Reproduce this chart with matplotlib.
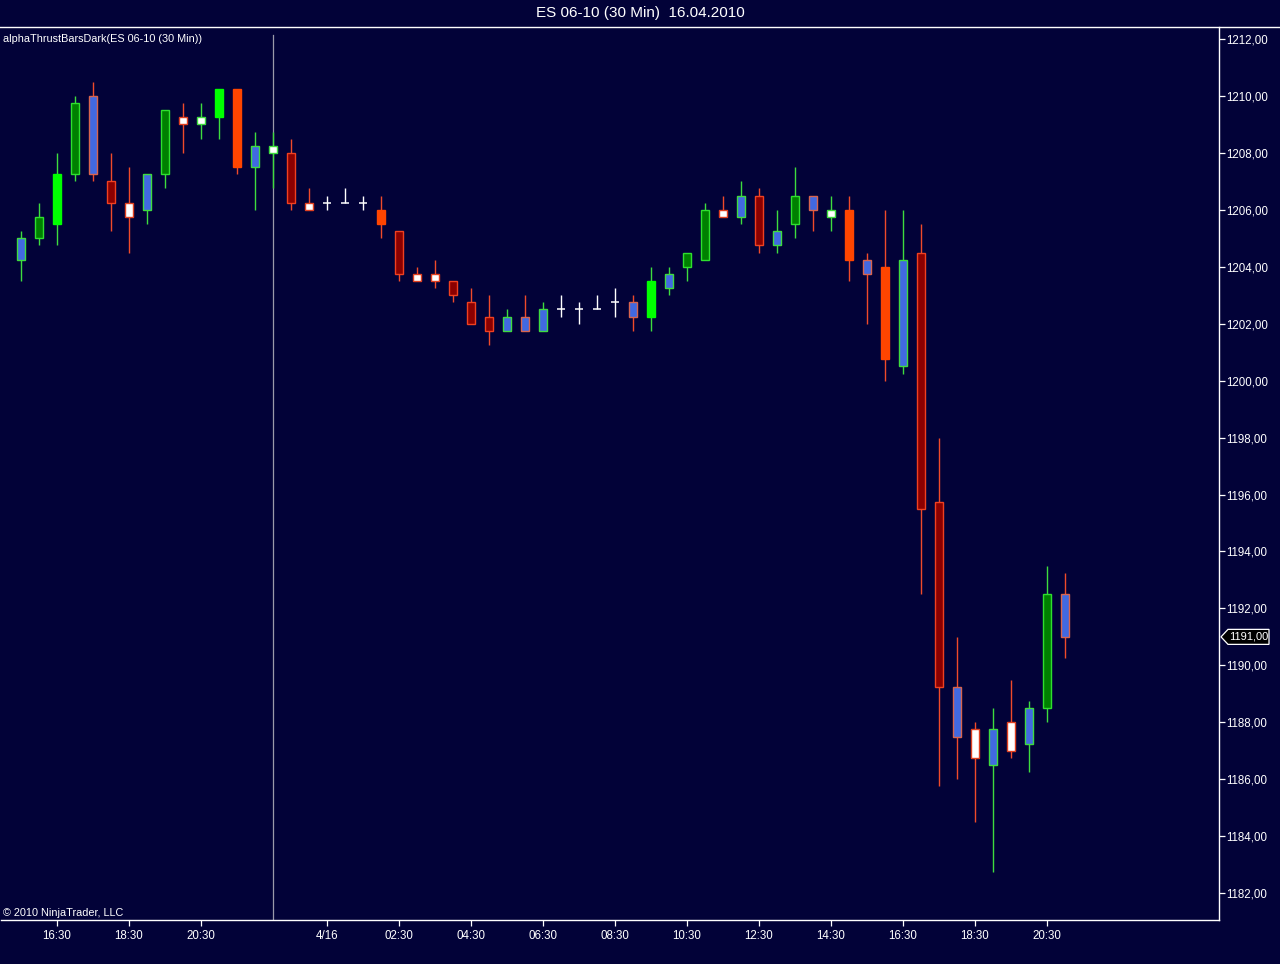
import matplotlib
matplotlib.use('Agg')
import matplotlib.pyplot as plt
import numpy as np
from matplotlib.patches import Polygon
from matplotlib.lines import Line2D
import matplotlib.transforms as mtransforms

plt.rcParams['font.family'] = ['Liberation Sans', 'DejaVu Sans']

# 30 min bars, ES 06-10, 15.04.2010 15:30 -> 16.04.2010 21:00
opens = [1204.25, 1205.0, 1205.5, 1207.25, 1210.0, 1207.0, 1206.25, 1206.0, 1207.25, 1209.25,
         1209.0, 1209.25, 1210.25, 1207.5, 1208.0, 1208.0, 1206.25, 1206.25, 1206.25, 1206.25,
         1206.0, 1205.25, 1203.75, 1203.75, 1203.5, 1202.75, 1202.25, 1201.75, 1202.25, 1201.75,
         1202.5, 1202.5, 1202.5, 1202.75, 1202.75, 1202.25, 1203.25, 1204.0, 1204.25, 1206.0,
         1205.75, 1206.5, 1204.75, 1205.5, 1206.5, 1205.75, 1206.0, 1204.25, 1204.0, 1200.5,
         1204.5, 1195.75, 1189.25, 1187.75, 1186.5, 1188.0, 1187.25, 1188.5, 1192.5]
highs = [1205.25, 1206.25, 1208.0, 1210.0, 1210.5, 1208.0, 1207.5, 1207.25, 1209.5, 1209.75,
         1209.75, 1210.25, 1210.25, 1208.75, 1208.75, 1208.5, 1206.75, 1206.5, 1206.75, 1206.5,
         1206.5, 1205.25, 1204.0, 1204.25, 1203.5, 1203.25, 1203.0, 1202.5, 1203.0, 1202.75,
         1203.0, 1202.75, 1203.0, 1203.25, 1203.0, 1204.0, 1204.0, 1204.5, 1206.25, 1206.5,
         1207.0, 1206.75, 1206.0, 1207.5, 1206.5, 1206.5, 1206.5, 1204.5, 1206.0, 1206.0,
         1205.5, 1198.0, 1191.0, 1188.0, 1188.5, 1189.5, 1188.75, 1193.5, 1193.25]
lows = [1203.5, 1204.75, 1204.75, 1207.0, 1207.0, 1205.25, 1204.5, 1205.5, 1206.75, 1208.0,
        1208.5, 1208.5, 1207.25, 1206.0, 1206.75, 1206.0, 1206.0, 1206.0, 1206.25, 1206.0,
        1205.0, 1203.5, 1203.5, 1203.25, 1202.75, 1202.0, 1201.25, 1201.75, 1201.75, 1201.75,
        1202.25, 1202.0, 1202.5, 1202.25, 1201.75, 1201.75, 1203.0, 1203.5, 1204.25, 1205.75,
        1205.5, 1204.5, 1204.5, 1205.0, 1205.25, 1205.25, 1203.5, 1202.0, 1200.0, 1200.25,
        1192.5, 1185.75, 1186.0, 1184.5, 1182.75, 1186.75, 1186.25, 1188.0, 1190.25]
closes = [1205.0, 1205.75, 1207.25, 1209.75, 1207.25, 1206.25, 1205.75, 1207.25, 1209.5, 1209.0,
          1209.25, 1210.25, 1207.5, 1208.25, 1208.25, 1206.25, 1206.0, 1206.25, 1206.25, 1206.25,
          1205.5, 1203.75, 1203.5, 1203.5, 1203.0, 1202.0, 1201.75, 1202.25, 1201.75, 1202.5,
          1202.5, 1202.5, 1202.5, 1202.75, 1202.25, 1203.5, 1203.75, 1204.5, 1206.0, 1205.75,
          1206.5, 1204.75, 1205.25, 1206.5, 1206.0, 1206.0, 1204.25, 1203.75, 1200.75, 1204.25,
          1195.5, 1189.25, 1187.5, 1186.75, 1187.75, 1187.0, 1188.5, 1192.5, 1191.0]
# thrust colouring of each bar
styles = ['BU', 'DG', 'LM', 'DG', 'BD', 'DR', 'WD', 'BU', 'DG', 'WD',
          'WU', 'LM', 'OR', 'BU', 'WU', 'DR', 'WD', 'DJ', 'DJ', 'DJ',
          'OR', 'DR', 'WD', 'WD', 'DR', 'DR', 'DR', 'BU', 'BD', 'BU',
          'DJ', 'DJ', 'DJ', 'DJ', 'BD', 'LM', 'BU', 'DG', 'DG', 'WD',
          'BU', 'DR', 'BU', 'DG', 'BD', 'WU', 'OR', 'BD', 'OR', 'BU',
          'DR', 'DR', 'BD', 'WD', 'BU', 'WD', 'BU', 'DG', 'BD']

tick_idx = [2, 6, 10, 17, 21, 25, 29, 33, 37, 41, 45, 49, 53, 57]
tick_labels = ['16:30', '18:30', '20:30', '4/16', '02:30', '04:30', '06:30', '08:30',
               '10:30', '12:30', '14:30', '16:30', '18:30', '20:30']
price_ticks = np.arange(1182, 1213, 2)
session_bar = 14

BG = '#020238'
UPG = '#3EDC3E'
DNR = '#F04A2A'
style_map = {
    # code: (body fill, body edge, wick)
    'BU': ('#4169E1', UPG, UPG),
    'BD': ('#4169E1', '#D8644E', DNR),
    'DG': ('#008000', '#2EE02E', UPG),
    'LM': ('#00FF00', '#00FF00', UPG),
    'DR': ('#8B0000', '#F04020', DNR),
    'OR': ('#FF4500', '#FF4500', DNR),
    'WD': ('#FFFFFF', '#E04020', DNR),
    'WU': ('#FFFFFF', UPG, UPG),
    'DJ': ('#FFFFFF', '#FFFFFF', '#FFFFFF'),
}

W, H = 1280, 964
fig = plt.figure(figsize=(W / 100, H / 100), dpi=100, facecolor=BG)
ax_l, ax_r, ax_t, ax_b = 1, 1219, 27, 920
ax = fig.add_axes([ax_l / W, (H - ax_b) / H, (ax_r - ax_l) / W, (ax_b - ax_t) / H])
ax.set_facecolor(BG)

px_bar = 18.0
x0_px = 21.0
ax.set_xlim(-(x0_px - ax_l) / px_bar, (ax_r - x0_px) / px_bar)
px_per_pt = 28.47
ax.set_ylim(1212 - (ax_b - 39) / px_per_pt, 1212 + (39 - ax_t) / px_per_pt)

ax.axvline(session_bar, color='#9A9AAA', lw=0.9, ymax=0.991, zorder=1)

x = np.arange(len(opens))
body_w = 0.47
for i in x:
    o, h, l, c = opens[i], highs[i], lows[i], closes[i]
    fill, edge, wick = style_map[styles[i]]
    ax.vlines(i, l, h, color=wick, lw=1.0, zorder=2)
    if styles[i] == 'DJ' or o == c:
        ax.hlines(c, i - body_w / 2, i + body_w / 2, color=edge, lw=1.1, zorder=3)
    else:
        ax.bar(i, abs(c - o), bottom=min(o, c), width=body_w, color=fill,
               edgecolor=edge, linewidth=1.0, zorder=3)

# spines and ticks
for s in ['top', 'left']:
    ax.spines[s].set_visible(False)
for s in ['bottom', 'right']:
    ax.spines[s].set_color('white')
    ax.spines[s].set_linewidth(1.0)
ax.yaxis.tick_right()
ax.set_yticks(price_ticks)
ax.set_yticklabels([f'{p:.2f}'.replace('.', ',') for p in price_ticks])
ax.set_xticks(tick_idx)
ax.set_xticklabels(tick_labels)
ax.tick_params(axis='both', colors='white', labelcolor='white', labelsize=8.3,
               direction='out', length=4, width=0.9)
ax.tick_params(axis='x', pad=3)
ax.tick_params(axis='y', pad=1.5)

# line across the top of the panel
fig.add_artist(Line2D([0, 1], [1 - ax_t / H] * 2, transform=fig.transFigure,
                      color='white', lw=1.0))

fig.text(0.5, 1 - 13 / H, 'ES 06-10 (30 Min)  16.04.2010', ha='center', va='center',
         color='white', fontsize=11)
ax.text(2 / (ax_r - ax_l), (ax_b - 39) / (ax_b - ax_t), 'alphaThrustBarsDark(ES 06-10 (30 Min))',
        transform=ax.transAxes, ha='left', va='center', color='white', fontsize=7.8)
ax.text(2 / (ax_r - ax_l), (ax_b - 913) / (ax_b - ax_t), '\u00a9 2010 NinjaTrader, LLC',
        transform=ax.transAxes, ha='left', va='center', color='white', fontsize=7.8)

# last price marker on the price scale
last_price = closes[-1]
trans = mtransforms.blended_transform_factory(ax.transAxes, ax.transData)
aw = ax_r - ax_l
half = 7.5 / px_per_pt
fx = lambda px: (px - ax_l) / aw
marker = Polygon([[fx(1221), last_price], [fx(1228), last_price + half],
                  [fx(1269), last_price + half], [fx(1269), last_price - half],
                  [fx(1228), last_price - half]], closed=True, transform=trans,
                 facecolor='black', edgecolor='white', lw=0.9, clip_on=False, zorder=5)
ax.add_patch(marker)
ax.text(fx(1248.5), last_price, f'{last_price:.2f}'.replace('.', ','), transform=trans,
        ha='center', va='center', color='white', fontsize=8.0, clip_on=False, zorder=6)

fig.savefig('out.png', dpi=100, facecolor=BG)
